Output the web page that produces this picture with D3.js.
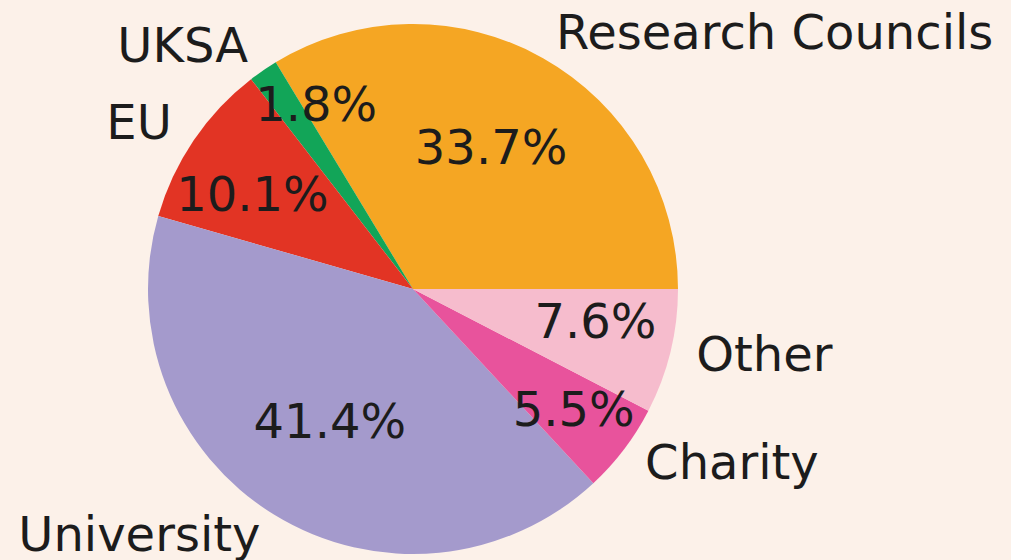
<!DOCTYPE html>
<html>
<head>
<meta charset="utf-8">
<script src="https://cdn.jsdelivr.net/npm/d3@7"></script>
<style>
  html, body { margin: 0; padding: 0; background: #fcf1e9; }
  svg { display: block; }
</style>
</head>
<body>
<svg id="chart" width="1011" height="560"></svg>
<script>
// funding sources, in matplotlib order (counter-clockwise from 3 o'clock)
const labels = ["Research Councils", "UKSA", "EU", "University", "Charity", "Other"];
const shares = [33.7, 1.8, 10.1, 41.4, 5.5, 7.6];
const colors = ["#f5a623", "#12a558", "#e23424", "#a49acc", "#e8539c", "#f6bccd"];
// hand nudges of the percent labels (px), as in the original figure
const pctNudge = [[0, 0], [-7, -50], [-29, -2], [0, 0], [34, 27], [28, -2]];

var width = 1011, height = 560;
var cx = 413, cy = 289, r = 265;
var lift = -3.5; // matplotlib centres on the bbox incl. descent

var svg = d3.select("#chart");
svg.append("rect").attr("width", width).attr("height", height).attr("fill", "#fcf1e9");

var g = svg.append("g").attr("transform", `translate(${cx},${cy})`);

// d3 angles start at 12 o'clock going clockwise, so start at +90deg and sweep backwards
var pie = d3.pie()
  .sort(null)
  .startAngle(Math.PI / 2)
  .endAngle(Math.PI / 2 - 2 * Math.PI);

var arcs = pie(shares);

var arc = d3.arc().innerRadius(0).outerRadius(r);
var pctArc = d3.arc().innerRadius(r * 0.6).outerRadius(r * 0.6);
var labelArc = d3.arc().innerRadius(r * 1.1).outerRadius(r * 1.1);

g.selectAll("path.slice")
  .data(arcs)
  .join("path")
  .attr("class", "slice")
  .attr("d", arc)
  .attr("fill", (d, i) => colors[i]);

var font = "'DejaVu Sans', sans-serif";

g.selectAll("text.pct")
  .data(arcs)
  .join("text")
  .attr("class", "pct")
  .attr("x", (d, i) => pctArc.centroid(d)[0] + pctNudge[i][0])
  .attr("y", (d, i) => pctArc.centroid(d)[1] + pctNudge[i][1] + lift)
  .attr("text-anchor", "middle")
  .attr("dominant-baseline", "central")
  .attr("font-family", font)
  .attr("font-size", 48)
  .attr("fill", "#1c1c1c")
  .text(d => d.data.toFixed(1) + "%");

g.selectAll("text.lbl")
  .data(arcs)
  .join("text")
  .attr("class", "lbl")
  .attr("x", d => labelArc.centroid(d)[0])
  .attr("y", d => labelArc.centroid(d)[1] + lift)
  .attr("text-anchor", d => labelArc.centroid(d)[0] > 0 ? "start" : "end")
  .attr("dominant-baseline", "central")
  .attr("font-family", font)
  .attr("font-size", 48)
  .attr("fill", "#1c1c1c")
  .text((d, i) => labels[i]);
</script>
</body>
</html>
